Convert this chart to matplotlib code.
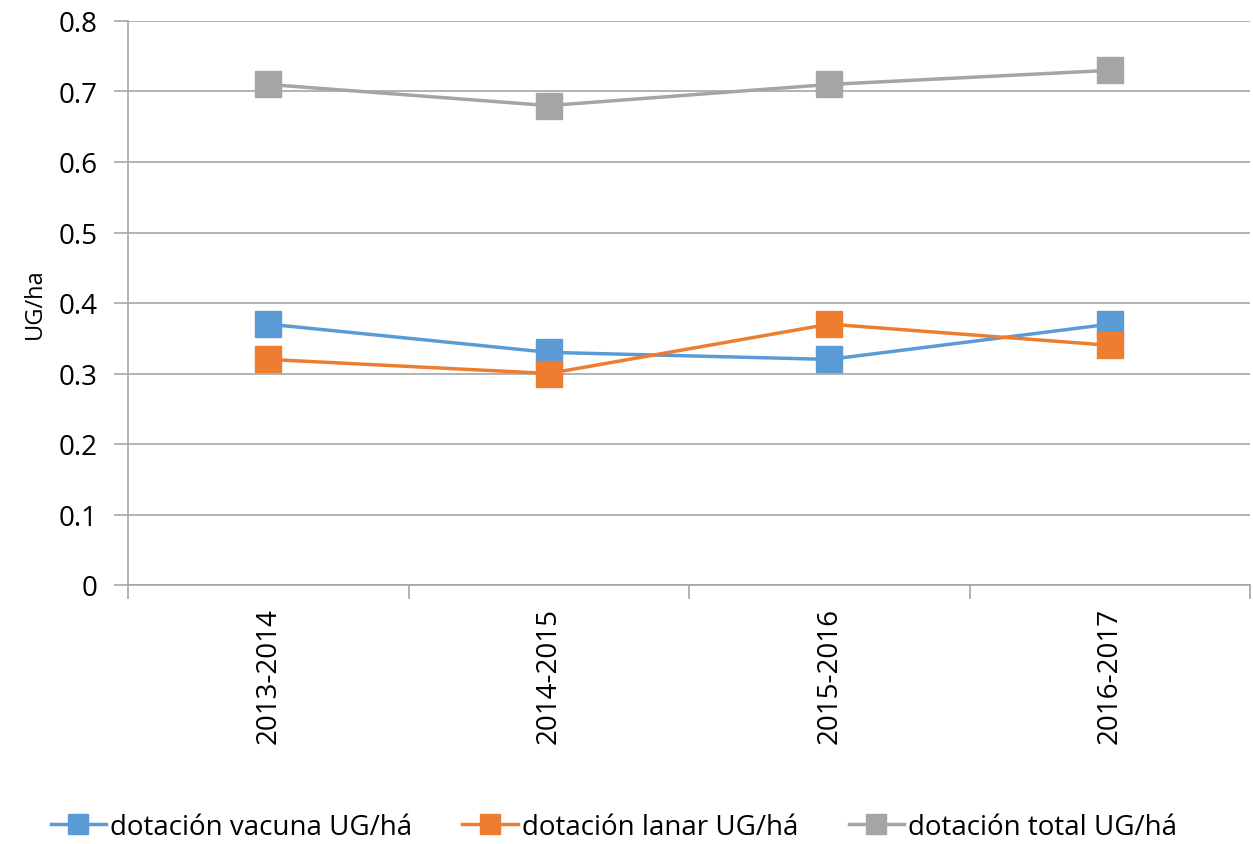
import matplotlib.pyplot as plt
import numpy as np

# datos
periodos = ['2013-2014', '2014-2015', '2015-2016', '2016-2017']
vacuna = [0.37, 0.33, 0.32, 0.37]
lanar = [0.32, 0.30, 0.37, 0.34]
total = [0.71, 0.68, 0.71, 0.73]

plt.rcParams['font.family'] = ['Open Sans', 'DejaVu Sans']

fig = plt.figure(figsize=(12.53, 8.45), dpi=100)
ax = fig.add_axes([128 / 1253, 1 - 586 / 845, 1122 / 1253, 564 / 845])

x = np.arange(len(periodos))
ax.plot(x, vacuna, color='#5B9BD5', lw=2.5, marker='s', ms=19,
        label='dotación vacuna UG/há', zorder=3)
ax.plot(x, lanar, color='#ED7D31', lw=2.5, marker='s', ms=19,
        label='dotación lanar UG/há', zorder=3)
ax.plot(x, total, color='#A5A5A5', lw=2.5, marker='s', ms=19,
        label='dotación total UG/há', zorder=3)

ax.set_xlim(-0.5, len(periodos) - 0.5)
ax.set_ylim(0, 0.8)
ax.set_yticks(np.arange(0, 0.81, 0.1))
ax.set_yticklabels(['0'] + [f'{v:.1f}' for v in np.arange(0.1, 0.81, 0.1)])
ax.grid(axis='y', color='#A6A6A6', lw=1.2, zorder=0)

# marcas de categoria en los bordes
ax.set_xticks(np.arange(-0.5, len(periodos)), minor=False)
ax.set_xticklabels([''] * (len(periodos) + 1))
ax.set_xticks(x, minor=True)
ax.set_xticklabels(periodos, minor=True, rotation=90, fontsize=20)
ax.tick_params(axis='x', which='major', length=10, color='#A6A6A6', width=1.2)
ax.tick_params(axis='x', which='minor', length=0, pad=16)
ax.tick_params(axis='y', length=10, color='#A6A6A6', width=1.2, labelsize=20, pad=12)

for s in ['top', 'right']:
    ax.spines[s].set_visible(False)
for s in ['left', 'bottom']:
    ax.spines[s].set_color('#A6A6A6')
    ax.spines[s].set_linewidth(1.2)

ax.set_ylabel('UG/ha', fontsize=17, labelpad=8)

fig.legend(loc='center', bbox_to_anchor=(0.49, 1 - 828 / 845), ncol=3,
           frameon=False, fontsize=20, handlelength=2.0, handletextpad=0.15,
           columnspacing=1.8, markerscale=0.75)

fig.savefig('out.png', dpi=100)
